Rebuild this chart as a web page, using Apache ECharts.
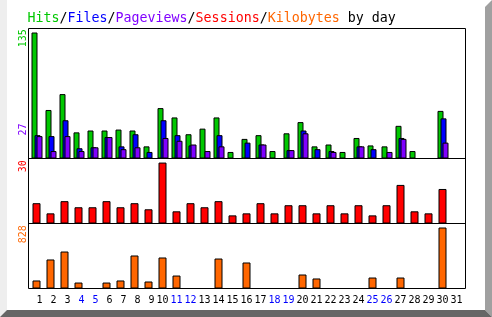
<!DOCTYPE html>
<html><head><meta charset="utf-8">
<script src="https://cdn.jsdelivr.net/npm/echarts@6/dist/echarts.min.js"></script>
<style>html,body{margin:0;padding:0;background:#fff}#c{width:492px;height:317px}</style>
</head><body><div id="c"></div>
<script>
// ---- data ----
const days = ['1','2','3','4','5','6','7','8','9','10','11','12','13','14','15','16','17','18','19','20','21','22','23','24','25','26','27','28','29','30','31'];
const weekendDays = ['4','5','11','12','18','19','25','26'];
const hits      = [135,52,69,28,30,30,31,30,13,54,44,26,32,44,7,21,25,8,27,39,13,15,7,22,14,13,35,8,0,51,0];
const files     = [25,24,41,11,12,23,13,26,7,41,25,14,0,25,0,17,15,0,9,30,10,8,0,13,10,0,22,0,0,43,0];
const pageviews = [24,8,24,8,12,23,10,12,0,22,19,15,8,13,0,0,15,0,9,27,0,7,0,13,0,7,21,0,0,17,0];
const sessions  = [10,5,11,8,8,11,8,10,7,30,6,10,8,11,4,5,10,5,9,9,5,9,5,9,4,9,19,6,5,17,0];
const kilobytes = [109,394,502,81,0,81,109,448,95,421,176,0,0,407,0,353,0,0,0,190,136,0,0,0,149,0,149,0,0,828,0];
const sideLabels = ['135','27','30','828'];
const titleParts = ['Hits','Files','Pageviews','Sessions','Kilobytes'];
const titleSuffix = ' by day';

// ---- style ----
const COL = {hits:'#00c800', files:'#0000ff', pages:'#8000ff', sessions:'#ff0000', kb:'#ff6600'};
const MONO = '"DejaVu Sans Mono", "Liberation Mono", monospace';

const chart = echarts.init(document.getElementById('c'), null, {renderer:'canvas', width:492, height:317});

function g(left, top, height){ return {left:left, top:top, width:434, height:height, containLabel:false, outerBoundsMode:'none'}; }
const grids = [
  g(27.5, 28.5, 130),  // hits
  g(30.5, 28.5, 130),  // files
  g(32.5, 28.5, 130),  // pageviews
  g(29.5, 158.5, 65),  // sessions
  g(29.5, 223.5, 65),  // kilobytes
  g(35.5, 223.5, 65)   // day labels
];
const yMax = [139.3, 139.3, 139.3, 32, 882.3, 1];
const xAxes = grids.map((_, i) => {
  if (i === 5) return {
    type:'category', gridIndex:i, data:days,
    axisLine:{show:false}, axisTick:{show:false}, splitLine:{show:false},
    axisLabel:{show:true, interval:0, align:'right', verticalAlign:'middle', margin:11.5,
      fontFamily:MONO, fontSize:10,
      color:(v) => weekendDays.includes(v) ? '#0000ff' : '#000000'}
  };
  return {type:'category', gridIndex:i, data:days, show:false};
});
const yAxes = grids.map((_, i) => ({type:'value', gridIndex:i, min:0, max:yMax[i], show:false}));

function bar(i, data, color, w){
  return {type:'bar', xAxisIndex:i, yAxisIndex:i, data:data, barWidth:w, silent:true,
    itemStyle:{color:color, borderColor:'#000', borderWidth:1}};
}
const series = [
  bar(0, hits, COL.hits, 6),
  bar(1, files, COL.files, 6),
  bar(2, pageviews, COL.pages, 6),
  bar(3, sessions, COL.sessions, 8),
  bar(4, kilobytes, COL.kb, 8)
];

// title as rich text
const richKeys = ['h','f','p','s','k'];
const richCols = [COL.hits, COL.files, COL.pages, COL.sessions, COL.kb];
const titleText = titleParts.map((t, i) => '{' + richKeys[i] + '|' + t + '}').join('{x|/}') + '{x|' + titleSuffix + '}';
const rich = {x:{fill:'#000', font:'13.3px ' + MONO}};
richKeys.forEach((k, i) => { rich[k] = {fill:richCols[i], font:'13.3px ' + MONO}; });

function sideLabel(text, y, color){
  return {type:'text', x:23.3, y:y, rotation:Math.PI/2, z:200,
    style:{text:text, fill:color, font:'10px ' + MONO, align:'left', verticalAlign:'middle'}};
}

const graphic = [
  // bevel border
  {type:'polygon', z:0, shape:{points:[[0,0],[7,0],[7,310],[0,317]]}, style:{fill:'#eeeeee'}},
  {type:'polygon', z:0, shape:{points:[[485,7],[492,0],[492,317],[485,310]]}, style:{fill:'#a0a0a0'}},
  {type:'polygon', z:0, shape:{points:[[7,310],[485,310],[492,317],[0,317]]}, style:{fill:'#666666'}},
  // frame
  {type:'rect', z:100, shape:{x:28.5, y:28.5, width:437, height:260}, style:{fill:null, stroke:'#000', lineWidth:1}},
  {type:'line', z:100, shape:{x1:28.5, y1:158.5, x2:465.5, y2:158.5}, style:{stroke:'#000', lineWidth:1}},
  {type:'line', z:100, shape:{x1:28.5, y1:223.5, x2:465.5, y2:223.5}, style:{stroke:'#000', lineWidth:1}},
  // title
  {type:'text', x:27.5, y:18.8, z:200, style:{text:titleText, rich:rich, font:'13.3px ' + MONO, fill:'#000', align:'left', verticalAlign:'middle'}},
  // side max labels
  sideLabel(sideLabels[0], 47.3, COL.hits),
  sideLabel(sideLabels[1], 135.5, COL.pages),
  sideLabel(sideLabels[2], 172.2, COL.sessions),
  sideLabel(sideLabels[3], 243.2, COL.kb)
];

chart.setOption({
  animation:false,
  backgroundColor:'#ffffff',
  grid:grids, xAxis:xAxes, yAxis:yAxes, series:series, graphic:graphic
});
</script></body></html>
